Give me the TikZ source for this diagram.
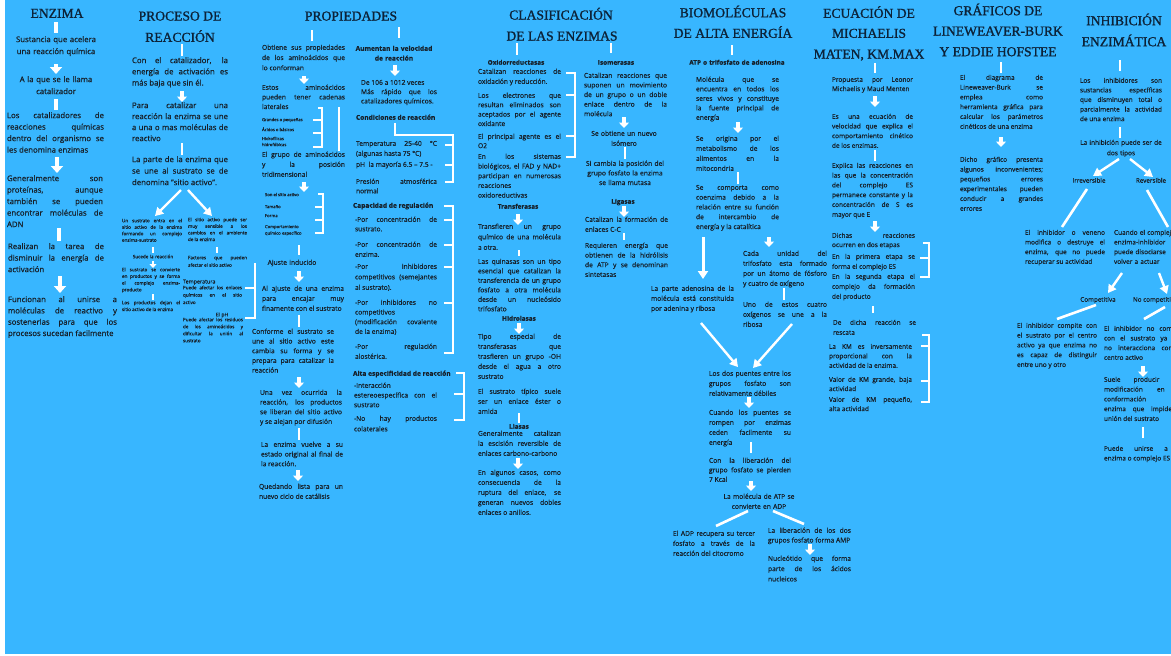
\documentclass[tikz,border=0pt]{standalone}
\usepackage{fontspec}
\setmainfont{Open Sans}[FakeBold=0.6]
\newfontfamily\titlefont{Liberation Serif}[FakeBold=1.2]
\usetikzlibrary{arrows.meta}
\definecolor{bg}{HTML}{38B6FF}
\definecolor{tc}{HTML}{16202A}
\definecolor{hc}{HTML}{0C2238}
\tikzset{
 fs/.style 2 args={font=\fontsize{#1}{#2}\selectfont, yshift={0.7*#2-0.27*#1}},
 tx/.style={anchor=north west, inner sep=0pt, outer sep=0pt, align=justify, text=tc,
   execute at begin node={\hyphenpenalty=10000\exhyphenpenalty=10000\strut}},
 cx/.style={anchor=north, inner sep=0pt, outer sep=0pt, align=center, text=tc, execute at begin node={\strut}},
 lb/.style={anchor=north west, inner sep=0pt, outer sep=0pt, text=tc, execute at begin node={\strut}},
 ttl/.style={anchor=base, inner sep=0pt, text=hc, font=\titlefont\fontsize{13.6}{16}\selectfont},
 wl/.style={white, line width=2.6pt},
 wlL/.style={white, line width=3.6pt},
 wlS/.style={white, line width=1.6pt},
 brk/.style={white, line width=1.8pt},
 barr/.style={white, line width=3.4pt, -{Triangle[width=10pt,length=5.5pt]}},
 barrL/.style={white, line width=4pt, -{Triangle[width=12pt,length=7pt]}},
 barrS/.style={white, line width=2.4pt, -{Triangle[width=7pt,length=4pt]}},
 dar/.style={white, line width=2.4pt, -{Triangle[width=9pt,length=8pt]}},
}
\begin{document}
\begin{tikzpicture}[x=1pt,y=-1pt]
\useasboundingbox (0,0) rectangle (1171,656);
\clip (0,0) rectangle (1171,656);
\fill[white] (0,0) rectangle (1171,656);
\fill[bg] (5,0) rectangle (1171,654);

% ---------- titles
\node[ttl] (t1) at (57,17.8) {ENZIMA};
\node[ttl] (t2a) at (180,20.5) {PROCESO DE};
\node[ttl] (t2b) at (180,41.8) {REACCIÓN};
\node[ttl] (t3) at (351,20.5) {PROPIEDADES};
\node[ttl] (t4a) at (561,19.5) {CLASIFICACIÓN};
\node[ttl] (t4b) at (562,40.5) {DE LAS ENZIMAS};
\node[ttl] (t5a) at (733,17.2) {BIOMOLÉCULAS};
\node[ttl] (t5b) at (733,37.8) {DE ALTA ENERGÍA};
\node[ttl] (t6a) at (869,17.8) {ECUACIÓN DE};
\node[ttl] (t6b) at (869,37.8) {MICHAELIS};
\node[ttl] (t6c) at (869,58.5) {MATEN, KM.MAX};
\node[ttl] (t7a) at (998,15.2) {GRÁFICOS DE};
\node[ttl] (t7b) at (998,35.5) {LINEWEAVER-BURK};
\node[ttl] (t7c) at (998,56.2) {Y EDDIE HOFSTEE};
\node[ttl] (t8a) at (1124,25.2) {INHIBICIÓN};
\node[ttl] (t8b) at (1124,46.2) {ENZIMÁTICA};

% ---------- column 1
\draw[wlL] (56,22) -- (56,33);
\node[cx, fs={7.8}{12}, text width=100pt] (e1) at (56,40) {Sustancia que acelera\\una reacción química};
\draw[barrL] (56,64) -- (56,74);
\node[cx, fs={7.8}{12}, text width=100pt] (e2) at (56,80) {A la que se le llama\\catalizador};
\draw[wlL] (56,99) -- (56,110);
\node[tx, fs={7.8}{11.5}, text width=97pt] (e3) at (7,116) {Los catalizadores de\linebreak reacciones químicas\linebreak dentro del organismo se\linebreak les denomina enzimas};
\draw[barrL] (57,157) -- (57,173);
\node[tx, fs={7.8}{11.5}, text width=96pt] (e4) at (7,179) {Generalmente son\linebreak proteínas, aunque\linebreak también se pueden\linebreak encontrar moléculas de\linebreak ADN};
\draw[wlL] (59,228) -- (59,241);
\node[tx, fs={7.8}{11.5}, text width=96pt] (e5) at (8,247) {Realizan la tarea de\linebreak disminuir la energía de\linebreak activación};
\draw[barrL] (60,276) -- (60,293);
\node[tx, fs={7.8}{11.3}, text width=109pt] (e6) at (8,300) {Funcionan al unirse a\linebreak moléculas de reactivo y\linebreak sostenerlas para que los\linebreak procesos sucedan facilmente};

% ---------- column 2
\draw[wl] (182,44) -- (182,56);
\node[tx, fs={7.8}{11.2}, text width=96pt] (p1) at (132,61) {Con el catalizador, la\linebreak energía de activación es\linebreak más baja que sin él.};
\draw[barr] (182,91) -- (182,102);
\node[tx, fs={7.8}{11}, text width=96pt] (p2) at (132,106) {Para catalizar una\linebreak reacción la enzima se une\linebreak a una o mas moléculas de\linebreak reactivo};
\draw[wl] (182,143) -- (182,155);
\node[tx, fs={7.8}{11.5}, text width=96pt] (p3) at (132,160) {La parte de la enzima que\linebreak se une al sustrato se de\linebreak denomina "sitio activo".};
\draw[dar] (181,190) -- (155,216);
\draw[dar] (188,190) -- (212,216);
\node[tx, fs={4.6}{6.5}, text width=60pt] (s1) at (122,221) {Un sustrato entra en el\linebreak sitio activo de la enzima\linebreak formando un complejo\linebreak enzima-sustrato};
\draw[wlS] (153,247) -- (153,253);
\node[cx, fs={4.6}{6.5}, text width=60pt] (s2) at (153,257) {Sucede la reacción};
\draw[barrS] (153,261) -- (153,268);
\node[tx, fs={4.6}{6.7}, text width=58pt] (s3) at (122,270) {El sustrato se convierte\linebreak en productos y se forma\linebreak el complejo enzima-\linebreak producto};
\draw[wlS] (153,294) -- (153,300);
\node[tx, fs={4.6}{6.8}, text width=58pt] (s4) at (122,303) {Los productos dejan el\linebreak sitio activo de la enzima};
\node[tx, fs={4.6}{6.6}, text width=59pt] (s5) at (188,220) {El sitio activo puede ser\linebreak muy sensible a los\linebreak cambios en el ambiente\linebreak de la enzima};
\draw[wlS] (217,247) -- (217,253);
\node[tx, fs={4.6}{7.5}, text width=59pt] (s6) at (188,258) {Factores que pueden\linebreak afectar el sitio activo};
\node[lb, fs={5.4}{7}] (s7) at (183,282) {Temperatura};
\node[tx, fs={4.6}{7.4}, text width=59pt] (s8) at (183,288) {Puede afectar los enlaces\linebreak químicos en el sitio\linebreak activo};
\node[cx, fs={5}{7}, text width=40pt] (s9) at (222,315) {El pH};
\node[tx, fs={4.6}{7}, text width=60pt] (s10) at (183,320) {Puede afectar los residuos\linebreak de los aminoácidos y\linebreak dificultar la unión al\linebreak sustrato};
\draw[brk] (255,263) -- (255,318) -- (245,318) (245,288) -- (255,288);

% ---------- column 3 left
\draw[wl] (312,30) -- (312,41);
\draw[wl] (399,27) -- (399,38);
\node[tx, fs={6.7}{10.2}, text width=83pt] (q1) at (262,48) {Obtiene sus propiedades\linebreak de los aminoácidos que\linebreak lo conforman};
\draw[barr] (304,76) -- (304,84);
\node[tx, fs={6.7}{9.6}, text width=83pt] (q2) at (262,88) {Estos aminoácidos\linebreak pueden tener cadenas\linebreak laterales};
\node[lb, fs={4.2}{6}] (q3) at (262,120) {Grandes o pequeñas};
\node[lb, fs={4.2}{6}] (q4) at (262,130) {Ácidos o básicos};
\node[tx, fs={4.2}{6}, text width=40pt, align=left] (q5) at (262,139) {Hidrofílicas\\hidrofóbicas};
\draw[brk] (318,108) -- (322,108) -- (322,147) -- (313,147) (313,120) -- (322,120) (313,133) -- (322,133);
\draw[wl] (339,107) -- (339,151);
\node[tx, fs={6.7}{10}, text width=83pt] (q6) at (262,155) {El grupo de aminoácidos\linebreak y la posición\linebreak tridimensional};
\draw[barr] (304,182) -- (304,192);
\node[lb, fs={4.2}{6}] (q7) at (265,195) {Son el sitio activo};
\node[lb, fs={4.2}{6}] (q8) at (265,207) {Tamaño};
\node[lb, fs={4.2}{6}] (q9) at (265,216) {Forma};
\node[tx, fs={4.2}{6.5}, text width=50pt, align=left] (q10) at (265,227) {Comportamiento\\químico específico};
\draw[brk] (318,194) -- (323,194) -- (323,233) -- (315,233) (315,207) -- (323,207) (315,220) -- (323,220);
\draw[wl] (299,245) -- (299,255);
\node[cx, fs={6.7}{10}, text width=80pt] (q11) at (292,263) {Ajuste inducido};
\draw[barr] (299,271) -- (299,282);
\node[tx, fs={6.7}{10}, text width=82pt] (q12) at (262,289) {Al ajuste de una enzima\linebreak para encajar muy\linebreak finamente con el sustrato};
\draw[wl] (299,315) -- (299,327);
\node[tx, fs={6.7}{9.7}, text width=82pt] (q13) at (252,332) {Conforme el sustrato se\linebreak une al sitio activo este\linebreak cambia su forma y se\linebreak prepara para catalizar la\linebreak reacción};
\draw[barr] (299,377) -- (299,388);
\node[tx, fs={6.7}{9.7}, text width=82pt] (q14) at (260,393) {Una vez ocurrida la\linebreak reacción, los productos\linebreak se liberan del sitio activo\linebreak y se alejan por difusión};
\draw[wl] (299,428) -- (299,440);
\node[tx, fs={6.7}{9.7}, text width=82pt] (q15) at (261,445) {La enzima vuelve a su\linebreak estado original al final de\linebreak la reacción.};
\draw[barr] (298,470) -- (298,481);
\node[tx, fs={6.7}{10}, text width=84pt] (q16) at (259,487) {Quedando lista para un\linebreak nuevo ciclo de catálisis};

% ---------- column 3 right
\node[cx, fs={6.6}{9.8}, text width=100pt] (r1) at (394,49) {\bfseries Aumentan la velocidad\\de reacción};
\draw[barr] (395,65) -- (395,76);
\node[tx, fs={6.7}{9.3}, text width=76pt] (r2) at (361,83) {De 106 a 1012 veces\\Más rápido que los\linebreak catalizadores químicos.};
\node[lb, fs={6.6}{9.5}] (r3) at (356,118) {\bfseries Condiciones de reacción};
\draw[brk] (395,123) -- (395,135) -- (453,135) -- (453,182) -- (445,182) (445,145) -- (453,145) (445,165) -- (453,165);
\node[tx, fs={6.7}{10}, text width=81pt] (r4) at (356,144) {Temperatura 25-40 °C\linebreak (algunas hasta 75 °C)};
\node[lb, fs={6.7}{10}] (r5) at (356,165) {pH\ \ la mayoría 6.5 – 7.5 -};
\node[tx, fs={6.7}{9.5}, text width=81pt] (r6) at (356,182) {Presión atmosférica\linebreak normal};
\node[lb, fs={6.6}{9.5}] (r7) at (353,206) {\bfseries Capacidad de regulación};
\draw[brk] (444,206) -- (453,206) -- (453,353) -- (444,353) (444,220) -- (453,220) (444,245) -- (453,245) (444,267) -- (453,267) (444,303) -- (453,303);
\node[tx, fs={6.7}{9.5}, text width=82pt] (r8) at (355,220) {-Por concentración de\linebreak sustrato.};
\node[tx, fs={6.7}{10}, text width=82pt] (r9) at (355,245) {-Por concentración de\linebreak enzima.};
\node[tx, fs={6.7}{10.5}, text width=82pt] (r10) at (355,267) {-Por inhibidores\linebreak competitivos (semejantes\linebreak al sustrato).};
\node[tx, fs={6.7}{9.7}, text width=82pt] (r11) at (355,303) {-Por inhibidores no\linebreak competitivos\linebreak (modificación covalente\linebreak de la enzima)};
\node[tx, fs={6.7}{10}, text width=82pt] (r12) at (355,347) {-Por regulación\linebreak alostérica.};
\node[lb, fs={6.6}{9.5}] (r13) at (353,374) {\bfseries Alta especificidad de reacción};
\draw[brk] (456,373) -- (464,373) -- (464,420) -- (454,420) (454,394) -- (464,394);
\node[tx, fs={6.7}{9.7}, text width=83pt] (r14) at (354,386) {-Interacción\linebreak estereoespecífica con el\linebreak sustrato};
\node[tx, fs={6.7}{10.5}, text width=83pt] (r15) at (354,419) {-No hay productos\linebreak colaterales};

% ---------- column 4
\draw[wl] (517,43) -- (517,55);
\draw[wl] (611,43) -- (611,53);
\node[cx, fs={6.4}{9.5}, text width=90pt] (k0) at (516,63) {\bfseries Oxidorreductasas};
\node[tx, fs={6.7}{10}, text width=83pt] (k1) at (478,72) {Catalizan reacciones de\linebreak oxidación y reducción.};
\node[tx, fs={6.7}{9.4}, text width=83pt] (k2) at (478,96) {Los electrones que\linebreak resultan eliminados son\linebreak aceptados por el agente\linebreak oxidante};
\node[tx, fs={6.7}{9.3}, text width=83pt] (k3) at (478,137) {El principal agente es el\linebreak O2};
\node[tx, fs={6.7}{9.7}, text width=83pt] (k4) at (478,157) {En los sistemas\linebreak biológicos, el FAD y NAD+\linebreak participan en numerosas\linebreak reacciones\linebreak oxidoreductivas};
\draw[brk] (566,73) -- (575,73) -- (575,157) -- (566,157) (566,95) -- (575,95) (566,136) -- (575,136);
\node[cx, fs={6.4}{9.5}, text width=90pt] (k5) at (518,207) {\bfseries Transferasas};
\draw[barr] (518,214) -- (518,225);
\node[tx, fs={6.7}{10.5}, text width=83pt] (k6) at (478,227) {Transfieren un grupo\linebreak químico de una molécula\linebreak a otra.};
\draw[wl] (519,250) -- (519,256);
\node[tx, fs={6.7}{9.5}, text width=83pt] (k7) at (478,262) {Las quinasas son un tipo\linebreak esencial que catalizan la\linebreak transferencia de un grupo\linebreak fosfato a otra molécula\linebreak desde un nucleósido\linebreak trifosfato};
\node[cx, fs={6.4}{9.5}, text width=90pt] (k8) at (519,319) {\bfseries Hidrolasas};
\draw[barr] (519,323) -- (519,334);
\node[tx, fs={6.7}{10}, text width=83pt] (k9) at (478,337) {Tipo especial de\linebreak transferasas que\linebreak trasfieren un grupo -OH\linebreak desde el agua a otro\linebreak sustrato};
\node[tx, fs={6.7}{10}, text width=83pt] (k10) at (478,392) {El sustrato típico suele\linebreak ser un enlace éster o\linebreak amida};
\draw[wl] (519,413) -- (519,423);
\node[cx, fs={6.4}{9.5}, text width=90pt] (k11) at (519,427) {\bfseries Liasas};
\node[tx, fs={6.7}{10}, text width=83pt] (k12) at (478,434) {Generalmente catalizan\linebreak la escisión reversible de\linebreak enlaces carbono-carbono};
\draw[barr] (518,458) -- (518,469);
\node[tx, fs={6.7}{10}, text width=83pt] (k13) at (478,473) {En algunos casos, como\linebreak consecuencia de la\linebreak ruptura del enlace, se\linebreak generan nuevos dobles\linebreak enlaces o anillos.};

\node[cx, fs={6.4}{9.5}, text width=90pt] (i0) at (616,63) {\bfseries Isomerasas};
\node[tx, fs={6.7}{9.6}, text width=83pt] (i1) at (584,76) {Catalizan reacciones que\linebreak suponen un movimiento\linebreak de un grupo o un doble\linebreak enlace dentro de la\linebreak molécula};
\draw[barr] (624,117) -- (624,128);
\node[cx, fs={6.7}{10}, text width=86pt] (i2) at (624,134) {Se obtiene un nuevo\\isómero};
\draw[wl] (625,147) -- (625,159);
\node[cx, fs={6.7}{9.6}, text width=86pt] (i3) at (625,164) {Si cambia la posición del\\grupo fosfato la enzima\\se llama mutasa};
\node[cx, fs={6.4}{9.5}, text width=60pt] (i4) at (623,202) {\bfseries Ligasas};
\draw[barr] (624,206) -- (624,217);
\node[tx, fs={6.7}{10}, text width=83pt] (i5) at (585,220) {Catalizan la formación de\linebreak enlaces C-C};
\draw[wl] (624,233) -- (624,240);
\node[tx, fs={6.7}{9.7}, text width=83pt] (i6) at (585,246) {Requieren energía que\linebreak obtienen de la hidrólisis\linebreak de ATP y se denominan\linebreak sintetasas};

% ---------- column 5
\draw[wl] (732,45) -- (732,55);
\node[cx, fs={6.4}{9.5}, text width=110pt] (m0) at (737,63) {\bfseries ATP o trifosfato de adenosina};
\node[tx, fs={6.7}{9.5}, text width=83pt] (m1) at (696,80) {Molécula que se\linebreak encuentra en todos los\linebreak seres vivos y constituye\linebreak la fuente principal de\linebreak energía};
\draw[barr] (738,122) -- (738,133);
\node[tx, fs={6.7}{10}, text width=83pt] (m2) at (696,139) {Se origina por el\linebreak metabolismo de los\linebreak alimentos en la\linebreak mitocondria};
\draw[wl] (738,172) -- (738,184);
\node[tx, fs={6.7}{9.8}, text width=83pt] (m3) at (696,188) {Se comporta como\linebreak coenzima debido a la\linebreak relación entre su función\linebreak de intercambio de\linebreak energía y la catalítica};
\draw[white, line width=3pt, -{Triangle[width=10pt,length=8pt]}] (703,237) -- (703,279);
\draw[barr] (769,237) -- (769,247);
\node[tx, fs={6.7}{10}, text width=83pt] (m4) at (651,289) {La parte adenosina de la\linebreak molécula está constituida\linebreak por adenina y ribosa};
\node[tx, fs={6.7}{10}, text width=84pt] (m5) at (743,254) {Cada unidad del\linebreak trifosfato esta formado\linebreak por un átomo de fósforo\linebreak y cuatro de oxígeno};
\draw[wl] (784,288) -- (784,300);
\node[tx, fs={6.7}{10}, text width=84pt] (m6) at (743,305) {Uno de estos cuatro\linebreak oxígenos se une a la\linebreak ribosa};
\draw[dar] (701,323) -- (738,367);
\draw[dar] (792,324) -- (753,368);
\node[tx, fs={6.7}{10}, text width=82pt] (m7) at (709,374) {Los dos puentes entre los\linebreak grupos fosfato son\linebreak relativamente débiles};
\draw[barr] (749,397) -- (749,408);
\node[tx, fs={6.7}{10}, text width=82pt] (m8) at (709,413) {Cuando los puentes se\linebreak rompen por enzimas\linebreak ceden facilmente su\linebreak energía};
\draw[wl] (751,442) -- (751,453);
\node[tx, fs={6.7}{9.5}, text width=82pt] (m9) at (709,461) {Con la liberación del\linebreak grupo fosfato se pierden\linebreak 7 Kcal};
\draw[barr] (751,481) -- (751,491);
\node[cx, fs={6.7}{10}, text width=90pt] (m10) at (759,497) {La molécula de ATP se\\convierte en ADP};
\draw[wl] (748,511) -- (716,526);
\draw[wl] (773,511) -- (804,524);
\node[tx, fs={6.7}{10}, text width=82pt] (m11) at (673,534) {El ADP recupera su tercer\linebreak fosfato a través de la\linebreak reacción del citocromo};
\node[tx, fs={6.7}{9.7}, text width=83pt] (m12) at (768,531) {La liberación de los dos\linebreak grupos fosfato forma AMP};
\draw[barr] (810,544) -- (810,555);
\node[tx, fs={6.7}{10.3}, text width=83pt] (m13) at (768,559) {Nucleótido que forma\linebreak parte de los ácidos\linebreak nucleicos};

% ---------- column 6
\draw[wl] (875,63) -- (875,73);
\node[tx, fs={6.5}{9.3}, text width=81pt] (n1) at (832,80) {Propuesta por Leonor\linebreak Michaelis y Maud Menten};
\draw[barr] (875,96) -- (875,107);
\node[tx, fs={6.5}{9.7}, text width=81pt] (n2) at (832,117) {Es una ecuación de\linebreak velocidad que explica el\linebreak comportamiento cinético\linebreak de los enzimas.};
\draw[wl] (875,150) -- (875,161);
\node[tx, fs={6.5}{9.8}, text width=81pt] (n3) at (832,166) {Explica las reacciones en\linebreak las que la concentración\linebreak del complejo ES\linebreak permanece constante y la\linebreak concentración de S es\linebreak mayor que E};
\draw[barr] (875,221) -- (875,232);
\node[tx, fs={6.5}{9.3}, text width=83pt] (n4) at (832,236) {Dichas reacciones\linebreak ocurren en dos etapas};
\node[tx, fs={6.5}{10}, text width=83pt] (n5) at (832,257) {En la primera etapa se\linebreak forma el complejo ES};
\node[tx, fs={6.5}{10}, text width=83pt] (n6) at (832,277) {En la segunda etapa el\linebreak complejo da formación\linebreak del producto};
\draw[brk] (923,243) -- (929,243) -- (929,277) -- (920,277) (920,258) -- (929,258);
\draw[wl] (873,306) -- (873,313);
\node[tx, fs={6.5}{10}, text width=83pt] (n7) at (833,323) {De dicha reacción se\linebreak rescata};
\node[tx, fs={6.5}{9.5}, text width=83pt] (n8) at (829,347) {La KM es inversamente\linebreak proporcional con la\linebreak actividad de la enzima.};
\node[tx, fs={6.5}{9.3}, text width=83pt] (n9) at (829,380) {Valor de KM grande, baja\linebreak actividad};
\node[tx, fs={6.5}{9.3}, text width=83pt] (n10) at (829,400) {Valor de KM pequeño,\linebreak alta actividad};
\draw[brk] (922,335) -- (929,335) -- (929,402) -- (921,402) (921,346) -- (929,346) (921,381) -- (929,381);

% ---------- column 7
\draw[wl] (1001,62) -- (1001,73);
\node[tx, fs={6.5}{9.8}, text width=83pt] (g1) at (960,78) {El diagrama de\linebreak Lineweaver-Burk se\linebreak emplea como\linebreak herramienta gráfica para\linebreak calcular los parámetros\linebreak cinéticos de una enzima};
\draw[barr] (1001,137) -- (1001,147);
\node[tx, fs={6.5}{9.8}, text width=83pt] (g2) at (960,160) {Dicho gráfico presenta\linebreak algunos inconvenientes;\linebreak pequeños errores\linebreak experimentales pueden\linebreak conducir a grandes\linebreak errores};

% ---------- column 8
\draw[wl] (1120,60) -- (1120,71);
\node[tx, fs={6.5}{9.6}, text width=82pt] (h1) at (1080,81) {Los inhibidores son\linebreak sustancias específicas\linebreak que disminuyen total o\linebreak parcialmente la actividad\linebreak de una enzima};
\draw[wl] (1120,127) -- (1120,138);
\node[cx, fs={6.5}{10.5}, text width=90pt] (h2) at (1121,143) {La inhibición puede ser de\\dos tipos};
\draw[dar] (1119,159) -- (1093,176);
\draw[dar] (1130,159) -- (1153,177);
\node[cx, fs={6.3}{9}, text width=50pt] (h3) at (1089,181) {Irreversible};
\node[cx, fs={6.3}{9}, text width=50pt] (h4) at (1151,181) {Reversible};
\draw[wl] (1087,189) -- (1062,227);
\draw[wl] (1147,190) -- (1168,227);
\node[tx, fs={6.5}{9.7}, text width=80pt] (h5) at (1025,233) {El inhibidor o veneno\linebreak modifica o destruye el\linebreak enzima, que no puede\linebreak recuperar su actividad};
\node[tx, fs={6.5}{9.7}, text width=90pt, align=left] (h6) at (1114,233) {Cuando el complejo\\enzima-inhibidor\\puede disociarse\\volver a actuar};
\draw[dar] (1122,273) -- (1108,293);
\draw[dar] (1159,273) -- (1167,294);
\node[cx, fs={6.3}{9}, text width=50pt] (h7) at (1098,300) {Competitiva};
\node[lb, fs={6.3}{9}] (h8) at (1133,300) {No competitiva};
\draw[wl] (1096,305) -- (1057,319);
\draw[wl] (1165,307) -- (1144,319);
\node[tx, fs={6.5}{9.8}, text width=80pt] (h9) at (1017,326) {El inhibidor compite con\linebreak el sustrato por el centro\linebreak activo ya que enzima no\linebreak es capaz de distinguir\linebreak entre uno y otro};
\node[tx, fs={6.5}{9.7}, text width=80pt] (h10) at (1104,329) {El inhibidor no compite\linebreak con el sustrato ya que\linebreak no interacciona con el\linebreak centro activo};
\draw[barr] (1143,366) -- (1143,377);
\node[tx, fs={6.5}{9.8}, text width=80pt] (h11) at (1104,380) {Suele producir una\linebreak modificación en la\linebreak conformación\\enzima que impide la\linebreak unión del sustrato};
\draw[wl] (1143,427) -- (1143,438);
\node[tx, fs={6.5}{9.7}, text width=80pt] (h12) at (1104,449) {Puede unirse a la\linebreak enzima o complejo ES};
\end{tikzpicture}
\end{document}
